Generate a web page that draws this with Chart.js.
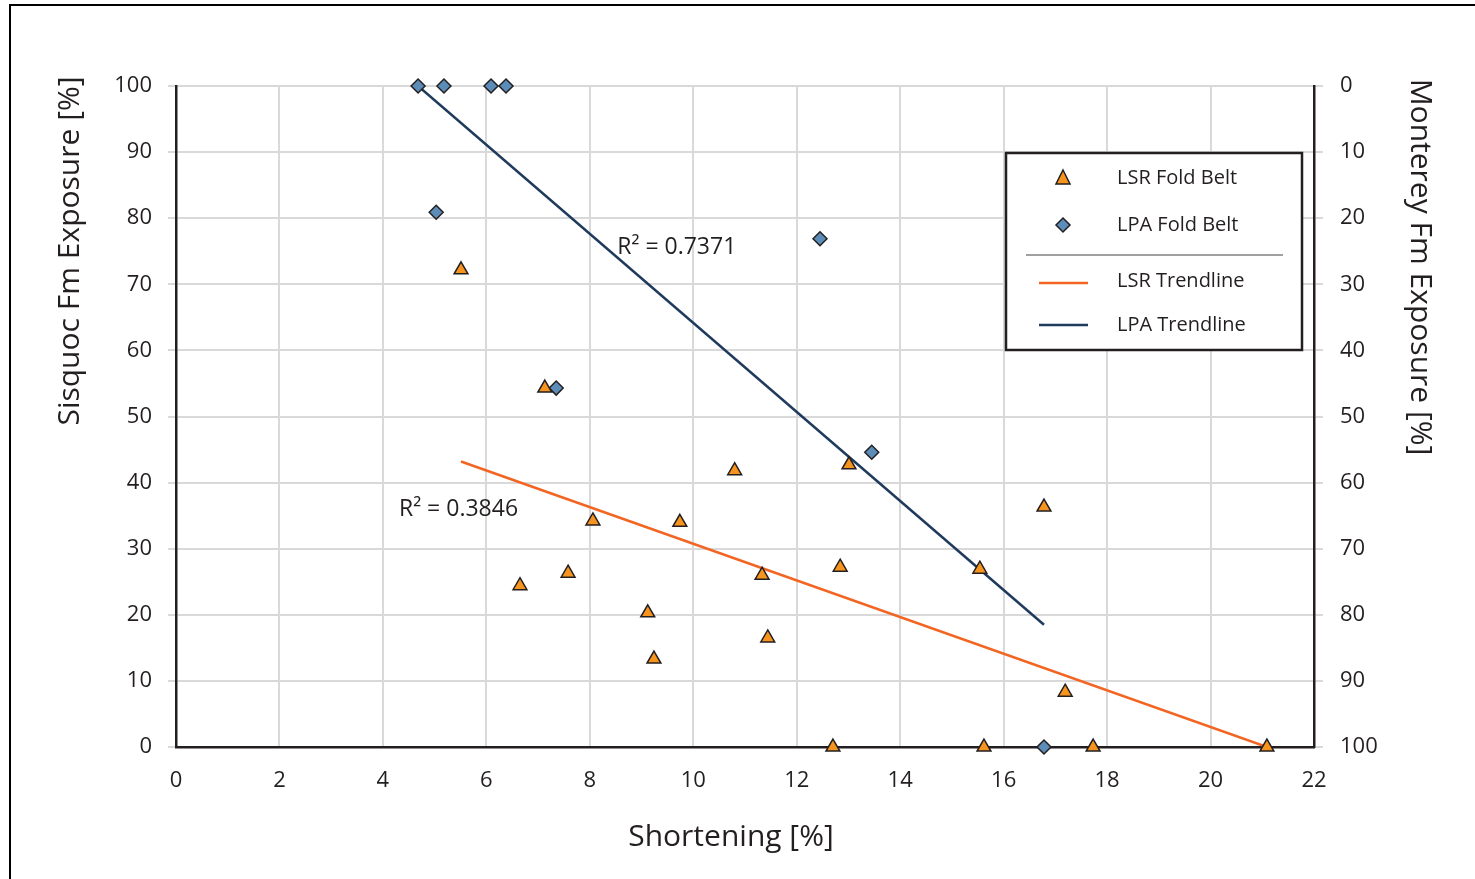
<!DOCTYPE html>
<html>
<head>
<meta charset="utf-8">
<title>Shortening vs Exposure</title>
<script src="https://cdn.jsdelivr.net/npm/chart.js@4"></script>
<style>
    html, body { margin: 0; padding: 0; background: #fff; overflow: hidden; }
    #wrap { width: 1475px; height: 879px; position: relative; }
</style>
</head>
<body>
<div id="wrap"><canvas id="exposureChart"></canvas></div>
<script>
// LSR fold belt: shortening [%] vs Sisquoc Fm exposure [%]
const lsrShortening = [5.51, 7.13, 8.06, 6.65, 7.58, 9.12, 9.24, 9.74, 10.8, 11.33, 11.44, 13.01, 12.84, 15.54, 16.78, 17.19, 12.7, 15.62, 17.73, 21.09];
const lsrSisquoc    = [72.2, 54.3, 34.2, 24.4, 26.3, 20.3, 13.3, 34.0, 41.8, 26.0, 16.5, 42.7, 27.2, 26.9, 36.3, 8.3, 0, 0, 0, 0];

// LPA fold belt: shortening [%] vs Monterey Fm exposure [%] (right axis, reversed)
const lpaShortening = [4.68, 5.18, 6.09, 6.38, 5.03, 12.45, 7.35, 13.45, 16.78];
const lpaMonterey   = [0, 0, 0, 0, 19.1, 23.1, 45.7, 55.4, 100];

// trendline end points
const lsrTrendX = [5.51, 21.09];
const lsrTrendY = [43.2, 0];
const lpaTrendX = [4.68, 16.78];
const lpaTrendY = [0, 81.5];

const lsrR2 = 'R\u00B2 = 0.3846';
const lpaR2 = 'R\u00B2 = 0.7371';

const xTicks = [0, 2, 4, 6, 8, 10, 12, 14, 16, 18, 20, 22];
const yTicks = [0, 10, 20, 30, 40, 50, 60, 70, 80, 90, 100];

// Colores
const colors = {
    triangle: '#f7941d',
    diamond: '#5b8db8',
    edge: '#231f20',
    lsrLine: '#f26522',
    lpaLine: '#1f3a5c',
    grid: '#d9d9d9',
    text: '#231f20'
};

const fontFamily = "'Open Sans', 'Noto Sans', sans-serif";

function toPoints(xs, ys) {
    return xs.map((x, i) => ({ x: x, y: ys[i] }));
}

// Marco, títulos de ejes, R² y leyenda
const decorPlugin = {
    id: 'decor',
    beforeDraw(chart) {
        const ctx = chart.ctx;
        ctx.save();
        ctx.fillStyle = '#fff';
        ctx.fillRect(0, 0, chart.width, chart.height);
        ctx.strokeStyle = '#000';
        ctx.lineWidth = 2;
        ctx.strokeRect(10, 5, 1600, 1000);
        ctx.restore();
    },
    afterDraw(chart) {
        const ctx = chart.ctx;
        const sx = chart.scales.x;
        const sy = chart.scales.y;
        ctx.save();
        ctx.fillStyle = colors.text;
        ctx.textAlign = 'center';
        ctx.textBaseline = 'middle';
        ctx.font = '30px ' + fontFamily;

        // títulos de ejes
        ctx.fillText('Shortening [%]', 731, 837);
        ctx.save();
        ctx.translate(70, 251);
        ctx.rotate(-Math.PI / 2);
        ctx.fillText('Sisquoc Fm Exposure [%]', 0, 0);
        ctx.restore();
        ctx.save();
        ctx.translate(1420, 267);
        ctx.rotate(Math.PI / 2);
        ctx.fillText('Monterey Fm Exposure [%]', 0, 0);
        ctx.restore();

        // R²
        ctx.font = '23px ' + fontFamily;
        ctx.textAlign = 'left';
        ctx.fillText(lpaR2, sx.getPixelForValue(8.53), sy.getPixelForValue(75.6));
        ctx.fillText(lsrR2, sx.getPixelForValue(4.31), sy.getPixelForValue(36.0));

        // leyenda
        const lx = 1006, ly = 153, lw = 296, lh = 197;
        ctx.fillStyle = '#fff';
        ctx.fillRect(lx, ly, lw, lh);
        ctx.strokeStyle = '#231f20';
        ctx.lineWidth = 2.5;
        ctx.strokeRect(lx, ly, lw, lh);

        // triángulo
        ctx.beginPath();
        ctx.moveTo(1063, 170);
        ctx.lineTo(1070, 184);
        ctx.lineTo(1056, 184);
        ctx.closePath();
        ctx.fillStyle = colors.triangle;
        ctx.fill();
        ctx.strokeStyle = colors.edge;
        ctx.lineWidth = 1.5;
        ctx.stroke();

        // rombo
        ctx.beginPath();
        ctx.moveTo(1063, 218);
        ctx.lineTo(1070, 225);
        ctx.lineTo(1063, 232);
        ctx.lineTo(1056, 225);
        ctx.closePath();
        ctx.fillStyle = colors.diamond;
        ctx.fill();
        ctx.stroke();

        // separador
        ctx.strokeStyle = '#808080';
        ctx.lineWidth = 1.5;
        ctx.beginPath();
        ctx.moveTo(1026, 255);
        ctx.lineTo(1283, 255);
        ctx.stroke();

        // líneas de tendencia
        ctx.lineWidth = 2.5;
        ctx.strokeStyle = colors.lsrLine;
        ctx.beginPath();
        ctx.moveTo(1039, 283);
        ctx.lineTo(1088, 283);
        ctx.stroke();
        ctx.strokeStyle = colors.lpaLine;
        ctx.beginPath();
        ctx.moveTo(1039, 325);
        ctx.lineTo(1088, 325);
        ctx.stroke();

        ctx.fillStyle = colors.text;
        ctx.font = '20px ' + fontFamily;
        ctx.textAlign = 'left';
        ctx.fillText('LSR Fold Belt', 1117, 178);
        ctx.fillText('LPA Fold Belt', 1117, 225);
        ctx.fillText('LSR Trendline', 1117, 281);
        ctx.fillText('LPA Trendline', 1117, 325);
        ctx.restore();
    }
};

const tickFont = { family: fontFamily, size: 22 };

new Chart(document.getElementById('exposureChart'), {
    type: 'scatter',
    data: {
        datasets: [
            {
                label: 'LSR Trendline',
                data: toPoints(lsrTrendX, lsrTrendY),
                showLine: true,
                borderColor: colors.lsrLine,
                borderWidth: 2.5,
                pointRadius: 0,
                yAxisID: 'y',
                order: 3
            },
            {
                label: 'LPA Trendline',
                data: toPoints(lpaTrendX, lpaTrendY),
                showLine: true,
                borderColor: colors.lpaLine,
                borderWidth: 2.5,
                pointRadius: 0,
                yAxisID: 'y2',
                order: 4
            },
            {
                label: 'LPA Fold Belt',
                data: toPoints(lpaShortening, lpaMonterey),
                pointStyle: 'rectRot',
                pointRadius: 7,
                backgroundColor: colors.diamond,
                borderColor: colors.edge,
                borderWidth: 1.5,
                yAxisID: 'y2',
                clip: false,
                order: 2
            },
            {
                label: 'LSR Fold Belt',
                data: toPoints(lsrShortening, lsrSisquoc),
                pointStyle: 'triangle',
                pointRadius: 8,
                backgroundColor: colors.triangle,
                borderColor: colors.edge,
                borderWidth: 1.5,
                yAxisID: 'y',
                clip: false,
                order: 1
            }
        ]
    },
    options: {
        responsive: true,
        maintainAspectRatio: false,
        animation: false,
        layout: { padding: { top: 86, left: 0, right: 0, bottom: 0 } },
        plugins: {
            legend: { display: false },
            tooltip: { enabled: false }
        },
        scales: {
            x: {
                type: 'linear',
                min: 0,
                max: 22,
                afterFit(scale) { scale.height = 132; },
                afterBuildTicks(scale) { scale.ticks = xTicks.map(v => ({ value: v })); },
                grid: { color: colors.grid, lineWidth: 2, drawTicks: false },
                border: { color: '#231f20', width: 2.5 },
                ticks: { color: colors.text, font: tickFont, padding: 21 }
            },
            y: {
                type: 'linear',
                position: 'left',
                min: 0,
                max: 100,
                afterFit(scale) { scale.width = 176; },
                afterBuildTicks(scale) { scale.ticks = yTicks.map(v => ({ value: v })); },
                grid: { color: colors.grid, lineWidth: 2, tickLength: 8 },
                border: { color: '#231f20', width: 2.5 },
                ticks: { color: colors.text, font: tickFont, padding: 16 }
            },
            y2: {
                type: 'linear',
                position: 'right',
                min: 0,
                max: 100,
                reverse: true,
                afterFit(scale) { scale.width = 161; },
                afterBuildTicks(scale) { scale.ticks = yTicks.map(v => ({ value: v })); },
                grid: { color: colors.grid, lineWidth: 2, tickLength: 9, drawOnChartArea: false },
                border: { color: '#231f20', width: 2.5 },
                ticks: { color: colors.text, font: tickFont, padding: 17 }
            }
        }
    },
    plugins: [decorPlugin]
});
</script>
</body>
</html>
